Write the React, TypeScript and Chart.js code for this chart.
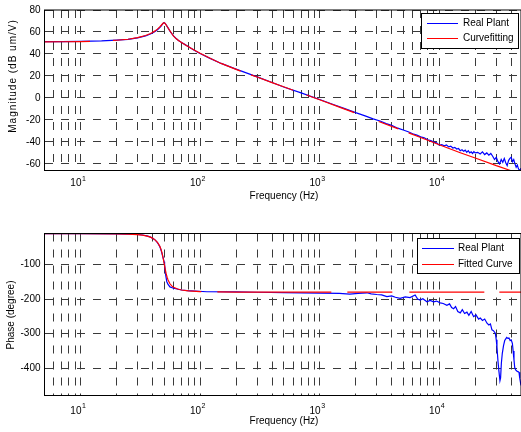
import React, { useEffect, useRef } from 'react';
import { Chart, registerables } from 'chart.js';

Chart.register(...registerables);

const FONT = '"Liberation Sans", Arial, Helvetica, sans-serif';

// ---------- data ----------
const gridFreqs = [
  6, 7, 8, 9, 10, 20, 30, 40, 50, 60, 70, 80, 90, 100, 200, 300, 400, 500, 600, 700, 800, 900,
  1000, 2000, 3000, 4000, 5000, 6000, 7000, 8000, 9000, 10000, 20000, 30000, 40000,
];
const decadeTicks = [10, 100, 1000, 10000];
const decadeExponents = ['1', '2', '3', '4'];
const magTicks = [-60, -40, -20, 0, 20, 40, 60, 80];
const phaseTicks = [-400, -300, -200, -100];

// Magnitude – curve fitting (red)
const fitMagFreq = [
  5, 7, 10, 15, 20, 25, 30, 35, 38, 40, 42, 44, 46, 47, 48, 49, 50, 51, 52, 53, 54, 56, 58, 60, 63, 66, 70,
  75, 80, 90, 100, 120, 150, 200, 250, 300, 400, 500, 700, 1000, 1500, 2000, 3000, 5000, 7000, 10000,
  15000, 20000, 30000, 40000, 48300,
];
const fitMag = [
  51.0, 51.1, 51.3, 51.8, 52.5, 53.4, 54.8, 56.8, 58.4, 59.6, 61.0, 62.6, 64.6, 65.7, 66.8, 67.9, 68.5,
  67.8, 66.5, 65.0, 63.6, 61.0, 58.6, 56.2, 54.0, 52.2, 50.4, 48.3, 46.5, 43.3, 40.6, 36.3, 31.4, 26.0,
  22.0, 19.0, 13.9, 10.2, 4.4, -1.6, -8.8, -13.8, -20.8, -29.8, -36.0, -42.6, -49.8, -54.6, -61.6, -66.2,
  -69.4,
];

// Magnitude – real plant (blue)
const plantMagFreq = [
  5, 7, 10, 15, 20, 25, 30, 35, 38, 40, 42, 44, 46, 47, 48, 49, 50, 51, 52, 53, 54, 56, 58, 60, 63, 66, 70,
  75, 80, 90, 100, 120, 150, 200, 250, 300, 400, 500, 700, 1000, 1300, 1600, 2000, 2400, 2800, 3200, 3600,
  4000, 4500, 5000, 5500, 6000, 6500, 7000, 7500, 8000, 8500, 9000, 9500, 10000, 10500, 11000, 11500,
  12000, 12500, 13000, 13500, 14000, 14500, 15000, 15500, 16000, 16500, 17000, 17500, 18000, 18500, 19000,
  19500, 20000, 21000, 22000, 23000, 24000, 25000, 26000, 27000, 28000, 29000, 30000, 31000, 32000, 33000,
  34000, 35000, 36000, 37000, 38000, 39000, 40000, 41000, 42000, 43000, 44000, 45000, 46000, 47000, 48300,
];
const plantMag = [
  51.2, 51.2, 51.4, 51.9, 52.6, 53.3, 54.6, 56.4, 57.9, 59.0, 60.4, 62.0, 64.0, 65.2, 66.5, 67.8, 68.6,
  67.9, 66.6, 65.1, 63.7, 60.8, 58.6, 56.4, 54.1, 52.3, 50.5, 48.5, 46.6, 43.2, 40.5, 36.2, 31.4, 26.2,
  22.3, 19.2, 14.1, 10.0, 4.6, -1.4, -6.0, -9.5, -13.4, -16.3, -19.0, -21.0, -23.4, -25.0, -27.5, -29.2,
  -30.8, -32.6, -33.8, -35.4, -36.3, -38.0, -38.7, -40.2, -40.8, -43.0, -42.5, -43.5, -42.8, -44.5, -43.8,
  -45.5, -45.0, -46.5, -46.0, -48.0, -47.2, -48.5, -47.5, -49.5, -48.0, -50.0, -49.0, -50.5, -48.8, -50.0,
  -49.5, -51.0, -49.0, -51.5, -50.0, -52.0, -50.5, -53.0, -56.0, -54.0, -58.0, -60.0, -56.0, -58.5, -55.0,
  -59.0, -61.5, -57.0, -55.0, -54.0, -58.0, -56.0, -60.0, -63.0, -61.0, -64.5, -66.0, -64.0,
];

// Phase – fitted curve (red)
const fitPhaseFreq = [
  5, 10, 20, 25, 30, 33, 36, 38, 40, 42, 44, 46, 47, 48, 49, 50, 51, 52, 53, 54, 56, 58, 60, 65, 70, 80,
  100, 130, 200, 500, 1000, 10000, 48300,
];
const fitPhase = [
  -11, -11.3, -12, -12.8, -14, -15.5, -18, -20.5, -24, -29, -36, -47, -55, -66, -80, -96, -112, -126,
  -137, -145, -156, -162, -166, -171, -174, -176.5, -178.5, -179.5, -180, -180, -180, -180, -180,
];

// Phase – real plant (blue)
const plantPhaseFreq = [
  5, 10, 20, 25, 30, 33, 36, 38, 40, 42, 44, 46, 47, 48, 49, 50, 50.5, 51.3, 52.7, 54, 56, 60, 70, 78, 114,
  200, 300, 500, 700, 1000, 1466, 1782, 2100, 2483, 2700, 3000, 3300, 3650, 4000, 4300, 4710, 5200, 5700,
  6290, 6600, 6918, 7300, 7890, 8400, 8970, 9500, 10190, 10800, 11590, 12200, 12700, 13190, 13700, 14300,
  15000, 15600, 16300, 17050, 17700, 18500, 19400, 20300, 21350, 22050, 23000, 24000, 25100, 26000, 26800,
  27600, 28500, 29450, 30000, 30400, 31000, 31600, 32200, 32600, 33100, 33700, 34500, 35300, 35900, 36700,
  37500, 38300, 39200, 40000, 40900, 41500, 42200, 42800, 43600, 44500, 45500, 46500, 47200, 48300,
];
const plantPhase = [
  -11, -11, -11.5, -12.3, -13.5, -15, -17.5, -20.4, -24, -29, -37, -48, -57, -68, -80, -92, -100, -126,
  -150, -158, -165, -169, -174, -176, -179, -179.5, -180.5, -181.5, -182, -183, -183.6, -185.7, -184, -182,
  -185, -187, -188, -193, -191, -195, -198, -194, -196, -188.5, -200, -203, -199, -208, -204, -208, -206,
  -211, -213, -218, -214, -225, -228, -222, -236, -240, -231, -242, -238, -247, -236, -251, -246, -258,
  -255, -262, -258, -270, -275, -272, -289, -292, -299, -318, -338, -380, -410, -436, -428, -385, -357,
  -335, -320, -316, -311, -314, -313, -320, -318, -328, -350, -376, -398, -405, -408, -410, -412, -430,
  -450,
];

// ---------- helpers ----------
const BLUE = '#0000ff';
const RED = '#ff0000';
const GRID = '#3a3a3a';
const CANVAS_W = 521;
const CANVAS_H = 216;

const pts = (xs: number[], ys: number[]) => xs.map((x, i) => ({ x, y: ys[i] }));

type LegendRow = { label: string; color: string; y: number };
type Decor = {
  yTitle: string;
  yTitleX: number;
  yTitleY: number;
  letterSpacing: string;
  xTitleX: number;
  xTitleY: number;
  tickY: number;
  expY: number;
  legendBox: [number, number, number, number];
  legendLine: [number, number];
  legendTextX: number;
  legendRows: LegendRow[];
};

function decorPlugin(o: Decor) {
  return {
    id: 'decor',
    afterDraw(chart: any) {
      const ctx: CanvasRenderingContext2D = chart.ctx;
      const a = chart.chartArea;
      const xs = chart.scales.x;
      ctx.save();
      ctx.setLineDash([]);
      ctx.strokeStyle = '#000';
      ctx.lineWidth = 1;
      ctx.strokeRect(a.left, a.top, a.right - a.left, a.bottom - a.top);

      ctx.fillStyle = '#000';
      ctx.textBaseline = 'middle';
      decadeTicks.forEach((v, i) => {
        const px = xs.getPixelForValue(v);
        ctx.font = `10px ${FONT}`;
        ctx.textAlign = 'right';
        ctx.fillText('10', px + 1, o.tickY);
        ctx.font = `7px ${FONT}`;
        ctx.textAlign = 'left';
        ctx.fillText(decadeExponents[i], px + 1.5, o.expY);
      });

      ctx.font = `10px ${FONT}`;
      ctx.textAlign = 'center';
      ctx.fillText('Frequency (Hz)', o.xTitleX, o.xTitleY);

      ctx.save();
      ctx.translate(o.yTitleX, o.yTitleY);
      ctx.rotate(-Math.PI / 2);
      (ctx as any).letterSpacing = o.letterSpacing;
      ctx.fillText(o.yTitle, 0, 0);
      ctx.restore();

      const [bx, by, bw, bh] = o.legendBox;
      ctx.fillStyle = '#fff';
      ctx.fillRect(bx, by, bw, bh);
      ctx.strokeStyle = '#000';
      ctx.lineWidth = 1;
      ctx.strokeRect(bx + 0.5, by + 0.5, bw, bh);
      o.legendRows.forEach((r) => {
        ctx.fillStyle = r.color;
        ctx.fillRect(o.legendLine[0], r.y, o.legendLine[1] - o.legendLine[0], 1);
        ctx.fillStyle = '#000';
        ctx.font = `10px ${FONT}`;
        ctx.textAlign = 'left';
        ctx.textBaseline = 'middle';
        ctx.fillText(r.label, o.legendTextX, r.y + 0.5);
      });
      ctx.restore();
    },
  };
}

function makeChart(
  canvas: HTMLCanvasElement,
  datasets: any[],
  yMin: number,
  yMax: number,
  yTicks: number[],
  padTop: number,
  plotBottom: number,
  decor: Decor
) {
  const gridOpts = { color: GRID, lineWidth: 1, drawTicks: false };
  const borderOpts = { display: false, dash: [8, 8] };
  return new Chart(canvas, {
    type: 'line',
    data: { datasets },
    options: {
      animation: false,
      responsive: false,
      devicePixelRatio: 1,
      parsing: false as any,
      layout: { padding: { top: padTop, left: 0, right: 0, bottom: 0 } },
      plugins: { legend: { display: false }, tooltip: { enabled: false } },
      elements: { point: { radius: 0 }, line: { tension: 0 } },
      scales: {
        x: {
          type: 'logarithmic',
          min: 5,
          max: 48300,
          afterBuildTicks: (s: any) => {
            s.ticks = gridFreqs.map((v) => ({ value: v }));
          },
          afterFit: (s: any) => {
            s.height = CANVAS_H - plotBottom;
          },
          ticks: { display: false },
          grid: gridOpts,
          border: borderOpts,
        },
        y: {
          type: 'linear',
          min: yMin,
          max: yMax,
          afterBuildTicks: (s: any) => {
            s.ticks = yTicks.map((v) => ({ value: v }));
          },
          afterFit: (s: any) => {
            s.width = 44.5;
          },
          ticks: {
            color: '#000',
            padding: 4,
            font: { family: FONT, size: 10 },
            callback: (v: any) => String(v),
          },
          grid: gridOpts,
          border: borderOpts,
        },
      },
    } as any,
    plugins: [decorPlugin(decor)],
  });
}

export default function App() {
  const magRef = useRef<HTMLCanvasElement>(null);
  const phaseRef = useRef<HTMLCanvasElement>(null);

  useEffect(() => {
    const mag = makeChart(
      magRef.current!,
      [
        { label: 'Real Plant', data: pts(plantMagFreq, plantMag), borderColor: BLUE, borderWidth: 1.2, order: 2 },
        {
          label: 'Curvefitting',
          data: pts(fitMagFreq, fitMag),
          borderColor: RED,
          borderWidth: 1.2,
          order: 1,
          borderDash: [45.5, 23, 148.5, 11, 45, 14, 51, 26, 21, 11, 2000],
        },
      ],
      -66,
      80,
      magTicks,
      8.5,
      170.5,
      {
        yTitle: 'Magnitude (dB um/V)',
        yTitleX: 13,
        yTitleY: 76,
        letterSpacing: '1px',
        xTitleX: 284,
        xTitleY: 196,
        tickY: 183.5,
        expY: 179,
        legendBox: [421, 13, 97, 35],
        legendLine: [427, 458],
        legendTextX: 463,
        legendRows: [
          { label: 'Real Plant', color: BLUE, y: 23 },
          { label: 'Curvefitting', color: RED, y: 38 },
        ],
      }
    );
    const phase = makeChart(
      phaseRef.current!,
      [
        { label: 'Real Plant', data: pts(plantPhaseFreq, plantPhase), borderColor: BLUE, borderWidth: 1.2, order: 2 },
        {
          label: 'Fitted Curve',
          data: pts(fitPhaseFreq, fitPhase),
          borderColor: RED,
          borderWidth: 1.2,
          order: 1,
          borderDash: [192, 16, 114, 16, 45, 17, 75, 15, 1000],
        },
      ],
      -479,
      -10.6,
      phaseTicks,
      17.5,
      179.5,
      {
        yTitle: 'Phase (degree)',
        yTitleX: 11,
        yTitleY: 315 - 216,
        letterSpacing: '0px',
        xTitleX: 284,
        xTitleY: 421.7 - 216,
        tickY: 410.8 - 216,
        expY: 406.5 - 216,
        legendBox: [417, 238 - 216, 102, 35],
        legendLine: [422, 454],
        legendTextX: 458,
        legendRows: [
          { label: 'Real Plant', color: BLUE, y: 248 - 216 },
          { label: 'Fitted Curve', color: RED, y: 264 - 216 },
        ],
      }
    );
    return () => {
      mag.destroy();
      phase.destroy();
    };
  }, []);

  return (
    <div style={{ position: 'absolute', left: 0, top: 0, width: CANVAS_W, height: 432, background: '#fff', overflow: 'hidden' }}>
      <canvas ref={magRef} width={CANVAS_W} height={CANVAS_H} style={{ position: 'absolute', left: 0, top: 0 }} />
      <canvas ref={phaseRef} width={CANVAS_W} height={CANVAS_H} style={{ position: 'absolute', left: 0, top: CANVAS_H }} />
    </div>
  );
}
